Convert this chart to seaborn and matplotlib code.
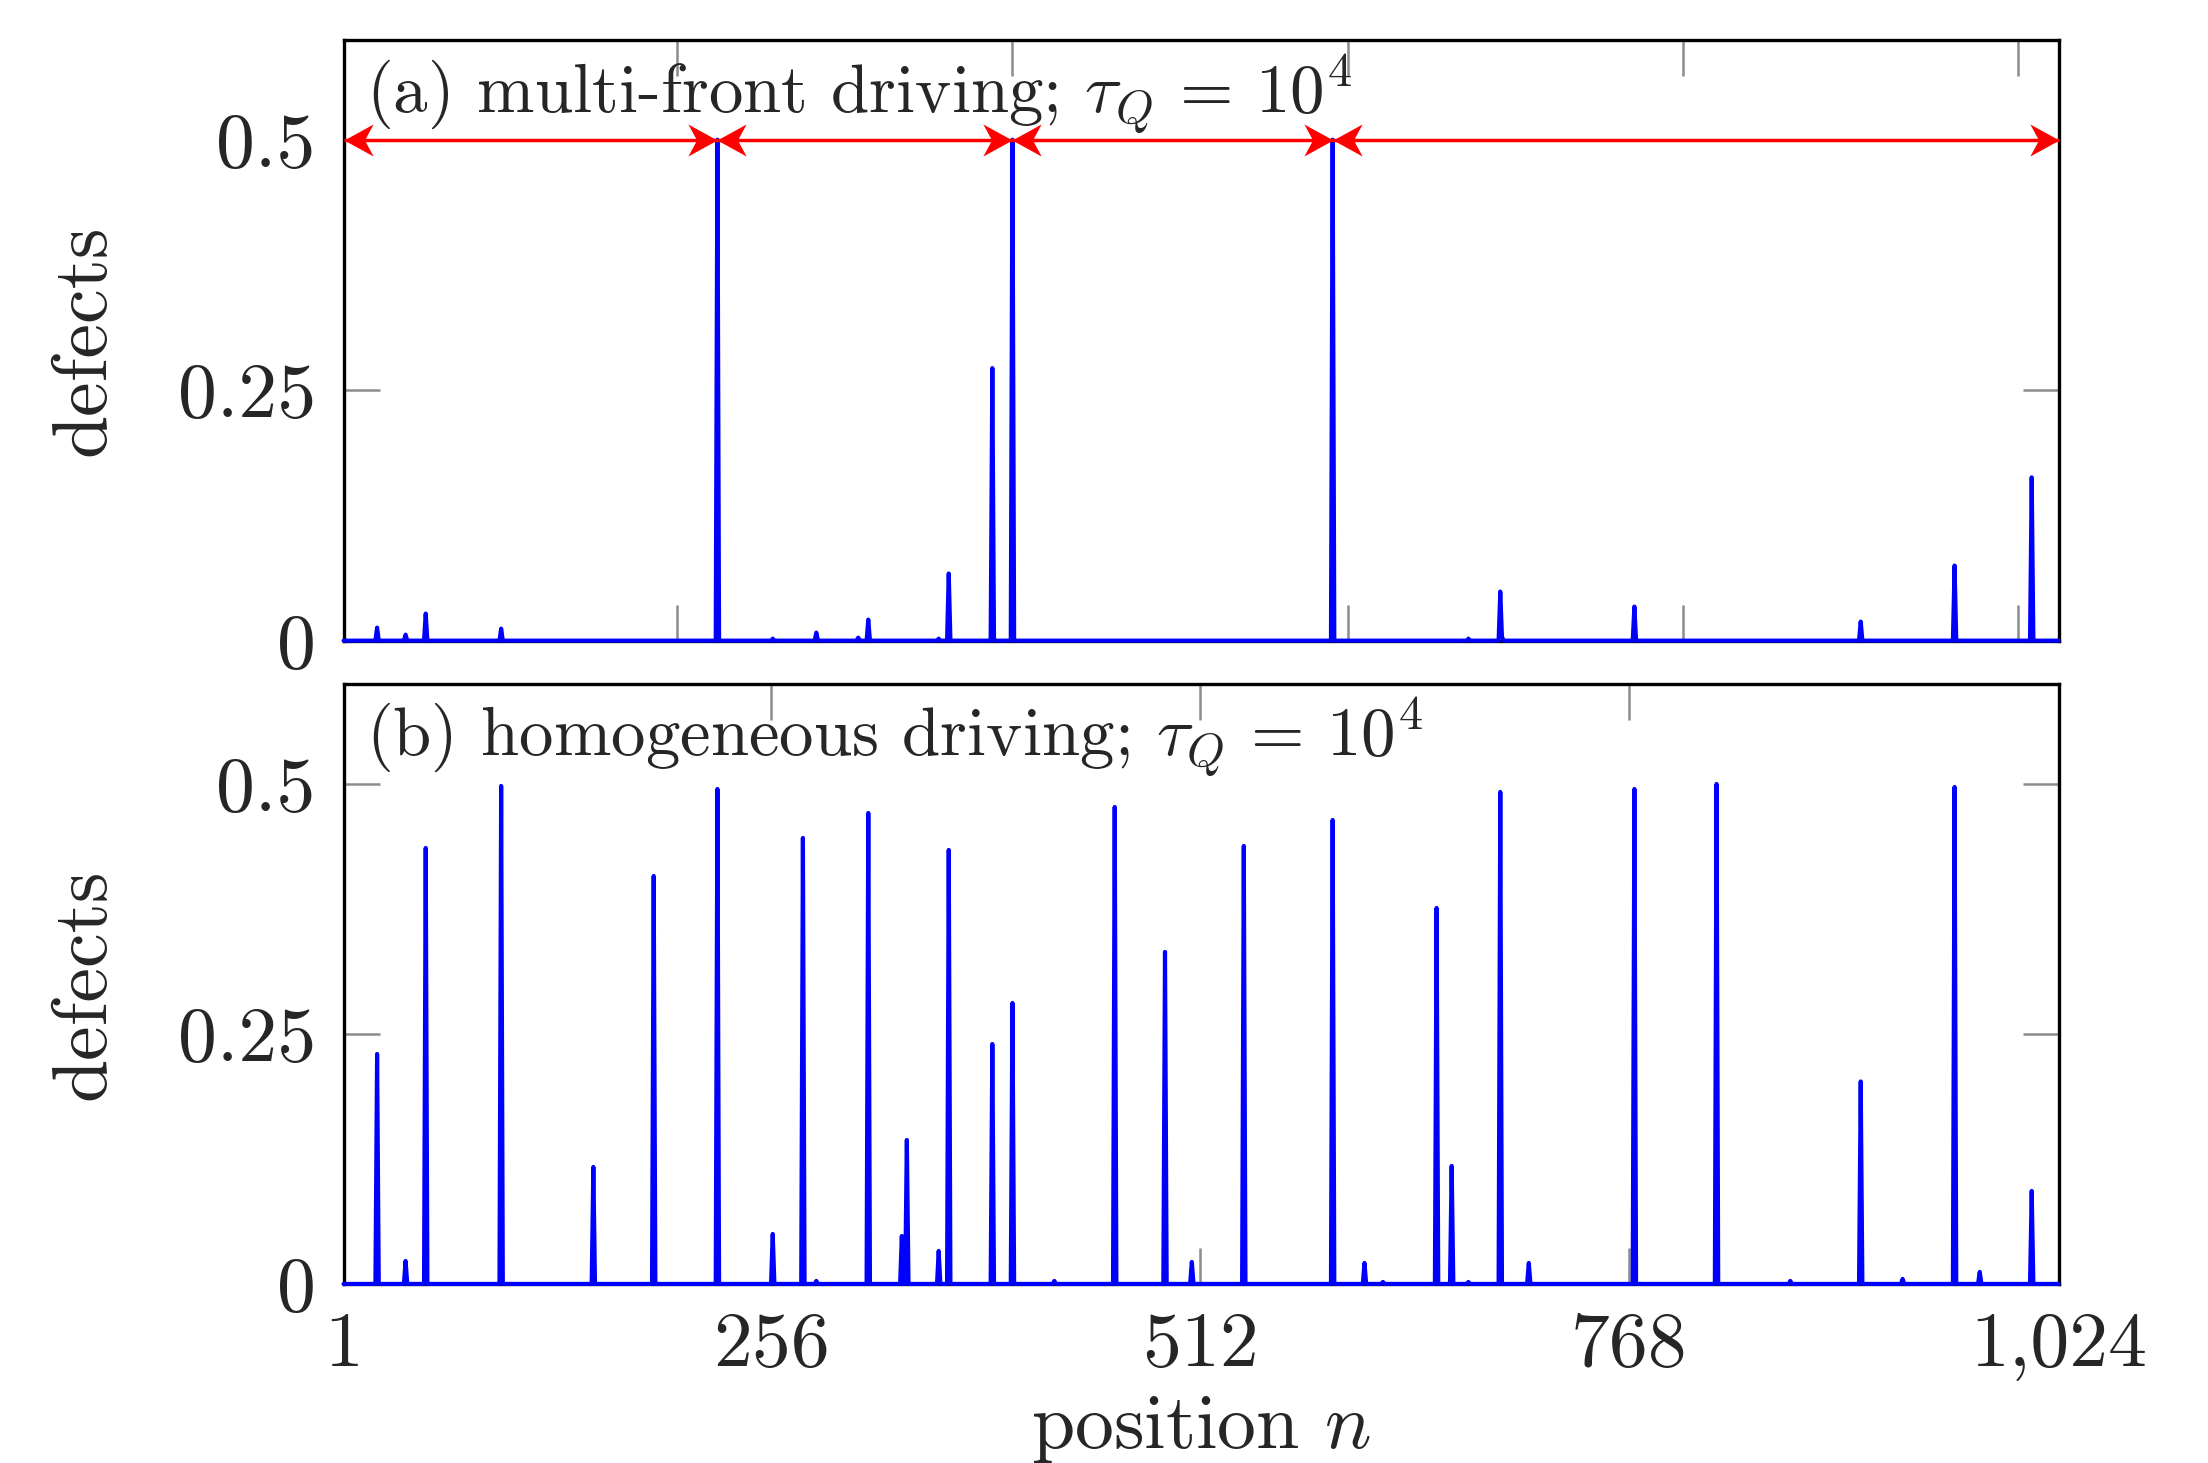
import numpy as np
import pandas as pd
import matplotlib
matplotlib.use("Agg")
import matplotlib.pyplot as plt
from matplotlib.path import Path
import seaborn as sns

# lattice positions and defect spikes
n_sites = 1024

# (a) multi-front driving
pos_a = [21, 38, 50, 95, 224, 257, 283, 308, 314, 356, 362, 388, 400,
         591, 672, 691, 692, 771, 906, 962, 1008]
val_a = [0.013, 0.006, 0.027, 0.012, 0.5, 0.002, 0.008, 0.003, 0.021, 0.002, 0.067, 0.272, 0.5,
         0.5, 0.002, 0.049, 0.004, 0.034, 0.019, 0.075, 0.163]

# (b) homogeneous driving
pos_b = [21, 38, 50, 95, 150, 186, 224, 257, 275, 283, 314, 334, 337, 356, 362, 388, 400,
         425, 461, 491, 507, 538, 591, 610, 621, 653, 662, 672, 691, 708, 771, 820,
         864, 906, 931, 962, 977, 1008]
val_b = [0.230, 0.023, 0.436, 0.498, 0.117, 0.408, 0.495, 0.050, 0.446, 0.003, 0.471, 0.048, 0.144,
         0.033, 0.434, 0.240, 0.281, 0.003, 0.477, 0.332, 0.022, 0.438, 0.464, 0.021, 0.002,
         0.376, 0.118, 0.002, 0.492, 0.021, 0.495, 0.500, 0.003, 0.2025, 0.005, 0.497, 0.012, 0.093]

# front positions (red arrows in panel a)
fronts = [1, 224, 400, 591, 1024]
arrow_y = 0.5

xticks_b = [1, 256, 512, 768, 1024]
xticklabels_b = ["1", "256", "512", "768", "1,024"]
xticks_a = [200, 400, 600, 800, 1000]
yticks = [0, 0.25, 0.5]
yticklabels = ["0", "0.25", "0.5"]

n = np.arange(1, n_sites + 1)
defects_a = np.zeros(n_sites)
defects_a[np.array(pos_a) - 1] = val_a
defects_b = np.zeros(n_sites)
defects_b[np.array(pos_b) - 1] = val_b
df = pd.DataFrame({"n": n, "multi": defects_a, "homo": defects_b})

sns.set_style("white")
plt.rcParams["font.family"] = ["cmr10", "DejaVu Sans"]
plt.rcParams["mathtext.fontset"] = "cm"
plt.rcParams["axes.formatter.use_mathtext"] = True

fig = plt.figure(figsize=(11.04, 7.315), dpi=200)
ax_a = fig.add_axes([0.1556, 0.5621, 0.7767, 0.4109])
ax_b = fig.add_axes([0.1556, 0.1224, 0.7767, 0.4101])

for ax, col in [(ax_a, "multi"), (ax_b, "homo")]:
    sns.lineplot(data=df, x="n", y=col, ax=ax, color="#0000ff", lw=1.5,
                 estimator=None, clip_on=False, zorder=3)
    ax.set_xlim(1, 1024)
    ax.set_ylim(0, 0.6)
    ax.set_yticks(yticks)
    ax.set_yticklabels(yticklabels)
    ax.tick_params(direction="in", length=13, width=0.9, color="#8c8c8c",
                   top=True, right=True, bottom=True, left=True,
                   labelsize=28, pad=10)
    for s in ax.spines.values():
        s.set_linewidth(1.2)
        s.set_color("black")
    ax.set_ylabel("defects", fontsize=28)
    ax.yaxis.set_label_coords(-0.131, 0.5)

ax_a.set_xticks(xticks_a)
ax_a.set_xticklabels([])
ax_a.set_xlabel("")
ax_b.set_xticks(xticks_b)
ax_b.set_xticklabels(xticklabels_b)
ax_b.set_xlabel("position $n$", fontsize=28)
ax_b.xaxis.set_label_coords(0.5, -0.183)

# stealth-like arrow heads, tip at the marker origin
head_r = Path([(0, 0), (-1, 0.55), (-0.7, 0), (-1, -0.55), (0, 0)],
              [Path.MOVETO, Path.LINETO, Path.LINETO, Path.LINETO, Path.CLOSEPOLY])
head_l = Path([(0, 0), (1, 0.55), (0.7, 0), (1, -0.55), (0, 0)],
              [Path.MOVETO, Path.LINETO, Path.LINETO, Path.LINETO, Path.CLOSEPOLY])

ax_a.plot([fronts[0], fronts[-1]], [arrow_y, arrow_y], color="#ff0000", lw=1.25,
          clip_on=False, zorder=4, solid_capstyle="butt")
ax_a.plot(fronts[1:], [arrow_y] * (len(fronts) - 1), ls="none", marker=head_r, ms=21,
          mew=0, color="#ff0000", clip_on=False, zorder=5)
ax_a.plot(fronts[:-1], [arrow_y] * (len(fronts) - 1), ls="none", marker=head_l, ms=21,
          mew=0, color="#ff0000", clip_on=False, zorder=5)

ax_a.text(0.013, 0.877, r"(a) multi-front driving; $\tau_Q\,=\,10^4$", transform=ax_a.transAxes,
          fontsize=24.8, va="baseline", ha="left")
ax_b.text(0.013, 0.88, r"(b) homogeneous driving; $\tau_Q\,=\,10^4$", transform=ax_b.transAxes,
          fontsize=24.8, va="baseline", ha="left")

fig.savefig("out.png", dpi=200)
